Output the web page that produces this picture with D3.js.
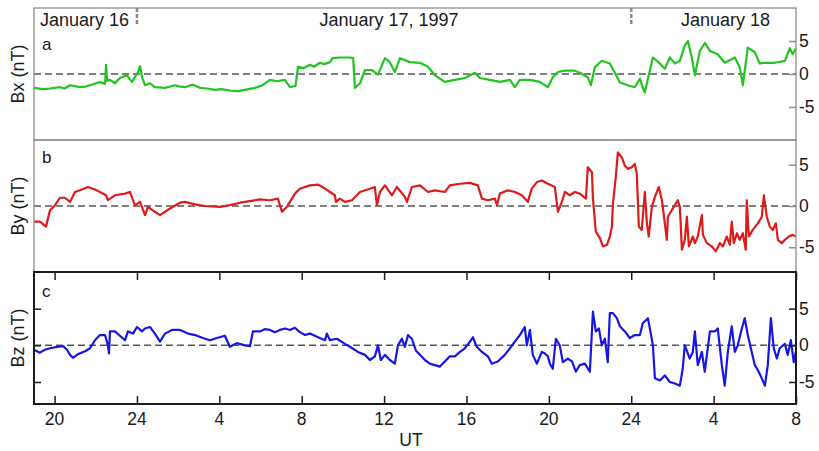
<!DOCTYPE html>
<html>
<head>
<meta charset="utf-8">
<script src="https://cdn.jsdelivr.net/npm/d3@7"></script>
<style>
  body { margin: 0; background: #fff; }
  text { font-family: "Liberation Sans", Arial, sans-serif; fill: #1a1a1a; }
</style>
</head>
<body>
<div id="chart"></div>
<script>
// hours relative to 00 UT January 17, 1997
const tickHours = [-4, 0, 4, 8, 12, 16, 20, 24, 28, 32];
const tickLabels = ["20", "24", "4", "8", "12", "16", "20", "24", "4", "8"];
const dayLabels = ["January 16", "January 17, 1997", "January 18"];
const dayBreaks = [0, 24];
const yTicks = [-5, 0, 5];

// [hour, nT]
const bx = [
  [-5.00,-2.1],[-4.60,-2.3],[-4.22,-2.2],[-3.74,-2.0],[-3.50,-2.2],[-3.25,-1.7],[-2.77,-2.0],[-2.50,-1.9],[-2.28,-1.7],[-1.80,-1.2],[-1.55,-1.5],
  [-1.50,1.4],[-1.45,-1.0],[-1.31,-0.9],[-1.07,-1.4],[-0.83,-0.6],[-0.49,-0.2],[-0.24,-1.2],[0.05,0.3],
  [0.15,1.2],[0.25,-0.5],[0.39,-1.7],[0.63,-1.4],[0.87,-2.0],[1.36,-2.1],[1.84,-1.7],[2.10,-1.9],[2.33,-2.0],
  [2.70,-1.6],[3.06,-2.1],[3.40,-2.2],[3.79,-2.4],[4.10,-2.3],[4.51,-2.5],[4.90,-2.6],[5.24,-2.4],[5.73,-2.1],[6.10,-1.7],[6.46,-0.9],[6.80,-1.1],[7.18,-0.9],[7.43,-2.0],
  [7.70,-1.8],[7.82,1.1],[8.10,0.9],[8.40,1.4],[8.60,1.1],[8.88,1.7],[9.10,1.5],[9.37,1.8],[9.50,2.4],[9.85,2.5],[10.34,2.5],
  [10.50,2.4],[10.58,-2.1],[10.83,-1.4],[11.07,0.6],[11.41,0.6],[11.70,-0.1],[12.04,2.4],[12.28,1.8],
  [12.52,0.3],[12.77,2.4],[13.25,1.8],[13.74,1.7],[14.13,1.1],[14.47,-0.2],[14.95,-1.2],[15.44,-0.9],
  [15.92,-0.6],[16.41,0.2],[16.65,-0.6],[17.14,-0.9],[17.62,-1.2],[18.11,-0.9],[18.35,-2.0],[18.59,-0.9],
  [19.08,-0.9],[19.56,-1.2],[19.95,-2.0],[20.19,-0.5],[20.44,0.3],[20.78,0.5],[21.26,0.5],[21.50,0.2],
  [21.89,-0.5],[22.04,-1.7],[22.23,1.0],[22.57,2.0],[22.96,1.6],[23.20,0.2],[23.45,-1.3],[23.83,-1.7],
  [24.17,-2.0],[24.42,-0.7],[24.55,-2.0],[24.66,-2.8],[24.90,0.5],[25.05,2.5],[25.39,1.6],[25.63,0.8],
  [25.87,2.5],[26.12,1.6],[26.36,2.0],[26.60,4.3],[26.75,5.0],[26.94,2.5],[27.09,-0.2],[27.33,3.5],
  [27.58,4.7],[27.82,3.5],[28.20,3.0],[28.54,1.7],[29.03,2.5],[29.27,1.0],[29.42,-1.7],[29.66,4.0],
  [30.00,3.3],[30.24,1.6],[30.49,1.7],[30.97,1.7],[31.46,2.0],[31.70,3.9],[31.84,3.0],[32.00,3.9]
];

const by = [
  [-5.00,-1.9],[-4.71,-1.9],[-4.42,-2.5],[-4.22,-0.5],[-3.98,0.1],[-3.74,1.0],[-3.50,1.0],[-3.25,0.5],
  [-3.01,1.7],[-2.77,1.9],[-2.38,2.3],[-2.04,2.0],[-1.80,1.7],[-1.50,1.3],[-1.41,0.7],[-1.07,1.3],
  [-0.58,1.5],[-0.34,1.7],[-0.10,0.1],[0.15,0.5],[0.39,-1.1],[0.53,-0.1],[0.87,-0.7],[1.12,-1.1],
  [1.60,-0.3],[2.09,0.4],[2.33,0.5],[2.82,0.2],[3.30,0.0],[4.03,-0.1],[4.51,0.1],[5.00,0.4],
  [5.49,0.6],[5.97,0.8],[6.46,0.7],[6.84,0.9],[7.04,-0.7],[7.28,-0.1],[7.67,1.5],[7.91,2.1],
  [8.40,2.5],[8.79,2.6],[9.13,2.1],[9.37,1.7],[9.61,1.3],[9.66,0.5],[9.85,0.9],[10.10,0.5],
  [10.44,0.7],[10.83,1.7],[11.31,2.1],[11.55,2.3],[11.65,0.1],[11.80,1.7],[12.04,2.5],[12.38,1.3],
  [12.62,2.3],[13.01,1.1],[13.11,0.5],[13.35,2.3],[13.74,2.5],[14.13,1.7],[14.47,1.9],[14.95,1.7],
  [15.19,2.5],[15.68,2.7],[16.17,2.8],[16.55,2.5],[16.75,0.9],[17.04,0.7],[17.38,0.9],[17.48,0.1],
  [17.62,1.5],[18.01,1.9],[18.35,1.7],[18.69,1.3],[18.98,0.5],[19.17,2.1],[19.42,2.9],[19.66,3.1],
  [19.95,2.7],[20.29,2.3],[20.44,-0.7],[20.63,0.5],[20.78,1.7],[21.02,1.3],[21.26,1.7],[21.50,1.5],
  [21.80,0.9],[21.89,4.7],[22.09,4.1],[22.14,0.9],[22.28,-3.1],[22.48,-3.9],[22.62,-4.9],[22.82,-4.7],
  [22.96,-3.7],[23.06,-2.5],[23.11,0.3],[23.25,3.5],[23.35,6.5],[23.54,5.9],[23.69,4.9],[23.83,4.5],
  [24.03,4.7],[24.17,5.1],[24.27,3.9],[24.37,-2.5],[24.51,-2.9],[24.56,-1.3],[24.66,1.7],[24.76,-2.1],
  [24.85,-3.7],[25.00,-0.1],[25.15,1.1],[25.34,2.3],[25.49,0.7],[25.63,-2.1],[25.73,-4.1],[25.78,-1.3],
  [25.97,-0.5],[26.12,0.1],[26.26,0.7],[26.36,-0.1],[26.46,-5.3],[26.60,-4.1],[26.70,-1.3],[26.80,-4.9],
  [26.99,-3.7],[27.09,-4.5],[27.23,-3.7],[27.43,-1.1],[27.48,-3.5],[27.67,-4.5],[27.91,-4.9],[28.11,-5.5],
  [28.30,-4.5],[28.45,-4.9],[28.64,-3.7],[28.79,-4.7],[28.88,-1.9],[28.98,-4.5],[29.13,-3.3],[29.27,-4.1],
  [29.42,-3.3],[29.56,-5.3],[29.61,0.7],[29.71,-3.7],[29.90,-2.9],[30.15,-2.1],[30.34,-1.3],[30.44,1.3],
  [30.58,-1.3],[30.73,-2.5],[30.87,-2.9],[31.02,-2.1],[31.12,-4.1],[31.31,-4.5],[31.46,-4.1],[31.65,-3.7],
  [31.84,-3.5],[31.99,-3.7]
];

const bz = [
  [-5.00,-0.6],[-4.71,-1.0],[-4.47,-0.6],[-4.22,-0.4],[-3.88,-0.2],[-3.59,-0.1],[-3.40,-0.6],[-3.25,-1.3],
  [-3.11,-1.7],[-2.86,-1.2],[-2.52,-0.8],[-2.28,-0.4],[-2.04,0.7],[-1.80,1.4],[-1.55,1.4],[-1.41,0.0],
  [-1.36,-1.1],[-1.31,1.9],[-1.07,1.9],[-0.83,1.3],[-0.58,0.7],[-0.44,1.9],[-0.19,1.6],[0.00,2.5],
  [0.24,1.9],[0.39,2.3],[0.63,2.5],[0.87,1.6],[1.12,0.5],[1.36,1.6],[1.70,2.1],[2.09,2.1],
  [2.48,1.6],[2.82,1.4],[3.20,1.0],[3.54,0.7],[3.88,1.0],[4.27,1.3],[4.51,-0.2],[4.85,0.3],
  [5.24,0.0],[5.49,-0.1],[5.63,1.9],[5.97,1.9],[6.20,2.2],[6.46,2.1],[6.70,1.8],[6.94,2.1],[7.20,2.3],[7.43,2.1],[7.67,2.4],
  [7.91,1.8],[8.16,1.4],[8.40,1.6],[8.79,1.1],[9.13,0.7],[9.22,1.6],[9.37,0.7],[9.71,0.9],
  [10.10,0.2],[10.34,-0.2],[10.73,-0.9],[11.07,-1.3],[11.31,-2.0],[11.55,-1.5],[11.70,0.0],[11.84,-2.0],
  [12.04,-1.3],[12.28,-2.0],[12.52,-2.5],[12.67,0.0],[12.86,0.9],[13.01,-0.2],[13.16,1.4],[13.35,0.9],
  [13.54,-0.7],[13.74,-1.3],[13.98,-2.0],[14.22,-2.5],[14.71,-2.9],[14.95,-2.2],[15.19,-1.5],[15.44,-1.5],
  [15.68,-0.9],[15.92,-0.4],[16.17,0.5],[16.31,1.1],[16.50,-0.2],[16.75,-0.9],[17.04,-1.5],[17.23,-2.5],
  [17.52,-2.2],[17.86,-1.3],[18.11,-0.4],[18.35,0.5],[18.59,1.4],[18.83,2.5],[18.93,0.0],[19.08,2.1],
  [19.22,-1.3],[19.42,-2.5],[19.66,-0.9],[19.81,-1.1],[19.95,-1.5],[20.05,-2.5],[20.19,-3.2],[20.34,0.9],
  [20.53,0.0],[20.68,-2.3],[20.92,-1.8],[21.12,-2.2],[21.31,-3.6],[21.50,-2.7],[21.75,-2.5],[21.99,-3.6],
  [22.14,4.6],[22.28,1.9],[22.43,2.3],[22.57,0.0],[22.72,0.9],[22.86,-2.3],[22.96,4.4],[23.11,4.4],
  [23.30,3.7],[23.45,2.6],[23.69,1.9],[23.93,1.0],[24.17,1.4],[24.42,1.4],[24.56,3.0],[24.81,3.7],
  [24.95,1.6],[25.05,0.0],[25.15,-4.5],[25.39,-4.8],[25.63,-4.1],[25.87,-5.0],[26.12,-5.2],[26.36,-5.5],
  [26.50,-3.2],[26.60,0.0],[26.84,-1.8],[26.99,-0.9],[27.09,1.9],[27.23,-2.7],[27.43,-0.9],[27.57,-3.6],
  [27.82,1.9],[28.06,1.9],[28.20,2.3],[28.40,-2.7],[28.54,-5.5],[28.69,-0.9],[28.88,2.6],[29.03,-0.9],
  [29.17,0.0],[29.37,2.3],[29.51,3.7],[29.66,1.4],[29.85,-0.9],[30.00,-2.7],[30.15,-3.4],[30.34,-4.5],
  [30.49,-5.5],[30.63,-2.7],[30.78,3.7],[30.92,-0.4],[31.07,-1.8],[31.21,-0.4],[31.46,0.2],[31.60,-1.3],
  [31.75,0.7],[31.89,-2.3],[31.99,-0.9]
];

const panels = [
  { label: "Bx (nT)", letter: "a", data: bx, color: "#22c422", domain: [-10, 10], frame: "#8e8e8e", letterY: 42 },
  { label: "By (nT)", letter: "b", data: by, color: "#de1b1b", domain: [-8, 8], frame: "#8e8e8e", letterY: 23 },
  { label: "Bz (nT)", letter: "c", data: bz, color: "#1717e4", domain: [-8, 10], frame: "#1c1c1c", letterY: 25 }
];

const width = 819, height = 451;
const plotLeft = 34, plotRight = 796;
const panelTop = 8, panelH = 132;

const svg = d3.select("#chart")
  .append("svg")
  .attr("width", width)
  .attr("height", height);

const x = d3.scaleLinear().domain([-5, 32]).range([plotLeft, plotRight]);

panels.forEach((p, i) => {
  const top = panelTop + i * panelH;
  const y = d3.scaleLinear().domain(p.domain).range([top + panelH, top]);
  const g = svg.append("g");

  // zero reference line
  g.append("line")
    .attr("x1", plotLeft).attr("x2", plotRight)
    .attr("y1", y(0)).attr("y2", y(0))
    .attr("stroke", "#555").attr("stroke-width", 1.5)
    .attr("stroke-dasharray", "7,4");

  const line = d3.line()
    .x(d => x(d[0]))
    .y(d => y(d[1]));

  g.append("path")
    .datum(p.data)
    .attr("d", line)
    .attr("fill", "none")
    .attr("stroke", p.color)
    .attr("stroke-width", 2.2)
    .attr("stroke-linejoin", "round");

  // right axis, inward ticks
  const right = d3.axisLeft(y).tickValues(yTicks).tickSize(7).tickFormat("");
  g.append("g")
    .attr("transform", `translate(${plotRight},0)`)
    .call(right)
    .call(s => s.select(".domain").remove())
    .call(s => s.selectAll("line").attr("stroke", p.frame).attr("stroke-width", 1.5));

  g.selectAll(".ylab")
    .data(yTicks)
    .enter().append("text")
    .attr("x", plotRight + 3)
    .attr("y", d => y(d) + 6)
    .style("font-size", "17.5px")
    .text(d => d);

  g.append("text")
    .attr("transform", `translate(24,${top + panelH / 2}) rotate(-90)`)
    .attr("text-anchor", "middle")
    .style("font-size", "18px")
    .text(p.label);

  g.append("text")
    .attr("x", 42)
    .attr("y", top + p.letterY)
    .style("font-size", "17px")
    .text(p.letter);

  if (i === 2) {
    // x ticks top and bottom, inward; y ticks on the left
    g.append("g")
      .attr("transform", `translate(0,${top + panelH})`)
      .call(d3.axisTop(x).tickValues(tickHours).tickSize(8).tickFormat(""))
      .call(s => s.select(".domain").remove())
      .call(s => s.selectAll("line").attr("stroke", p.frame).attr("stroke-width", 1.5));
    g.append("g")
      .attr("transform", `translate(0,${top})`)
      .call(d3.axisBottom(x).tickValues(tickHours).tickSize(8).tickFormat(""))
      .call(s => s.select(".domain").remove())
      .call(s => s.selectAll("line").attr("stroke", p.frame).attr("stroke-width", 1.5));
    g.append("g")
      .attr("transform", `translate(${plotLeft},0)`)
      .call(d3.axisRight(y).tickValues(yTicks).tickSize(7).tickFormat(""))
      .call(s => s.select(".domain").remove())
      .call(s => s.selectAll("line").attr("stroke", p.frame).attr("stroke-width", 1.5));

    g.selectAll(".xlab")
      .data(tickHours)
      .enter().append("text")
      .attr("x", d => x(d))
      .attr("y", top + panelH + 21)
      .attr("text-anchor", "middle")
      .style("font-size", "17.5px")
      .text((d, k) => tickLabels[k]);

    g.append("text")
      .attr("x", 411)
      .attr("y", 446)
      .attr("text-anchor", "middle")
      .style("font-size", "17.5px")
      .text("UT");
  }
  p.top = top;
});

// frames: a and b gray, c dark (drawn last)
panels.forEach(p => {
  svg.append("rect")
    .attr("x", plotLeft).attr("y", p.top)
    .attr("width", plotRight - plotLeft).attr("height", panelH)
    .attr("fill", "none")
    .attr("stroke", p.frame)
    .attr("stroke-width", p.letter === "c" ? 2 : 1.3);
});

// day separators and labels along the top
svg.selectAll(".daybreak")
  .data(dayBreaks)
  .enter().append("line")
  .attr("x1", d => x(d)).attr("x2", d => x(d))
  .attr("y1", panelTop).attr("y2", panelTop + 16)
  .attr("stroke", "#8a8a8a").attr("stroke-width", 2.5)
  .attr("stroke-dasharray", "4,2");

const dayPos = [
  { x: 40, anchor: "start" },
  { x: 389, anchor: "middle" },
  { x: 770, anchor: "end" }
];
svg.selectAll(".day")
  .data(dayLabels)
  .enter().append("text")
  .attr("x", (d, k) => dayPos[k].x)
  .attr("y", 26)
  .attr("text-anchor", (d, k) => dayPos[k].anchor)
  .style("font-size", "18px")
  .text(d => d);
</script>
</body>
</html>
